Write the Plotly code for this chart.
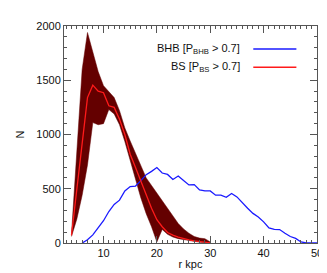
import plotly.graph_objects as go

# BS (blue stragglers) distribution, r in kpc
bs_r = list(range(4, 31))
bs_n = [70, 490, 910, 1340, 1455, 1400, 1385, 1265, 1250, 1140, 1000, 818, 695, 570,
        440, 320, 215, 150, 97, 72, 55, 40, 28, 20, 12, 6, 2]
bs_upper = [80, 880, 1600, 1940, 1750, 1580, 1450, 1390, 1340, 1220, 1060, 940, 830, 710,
            600, 530, 460, 390, 310, 240, 180, 130, 90, 60, 45, 40, 10]
bs_lower = [60, 220, 440, 720, 1110, 1090, 1100, 1230, 1190, 1090, 935, 759, 590, 415,
            270, 150, 10, 125, 80, 55, 40, 30, 22, 15, 8, 5, 0]

# BHB distribution
bhb_r = list(range(6, 51))
bhb_n = [0, 30, 75, 135, 205, 290, 355, 395, 480, 520, 525, 575, 630, 660, 695, 645, 632,
         585, 617, 575, 535, 538, 490, 480, 480, 441, 441, 421, 456, 425, 370, 320, 273,
         240, 195, 140, 125, 124, 90, 60, 42, 10, 0, 0, 0]

x_ticks = [10, 20, 30, 40, 50]
y_ticks = [0, 500, 1000, 1500, 2000]

FONT = "Liberation Sans, Arial, sans-serif"
AX = "#555555"
BAND = "#640000"

fig = go.Figure()
fig.add_trace(go.Scatter(x=bs_r, y=bs_lower, mode="lines", line=dict(width=0.5, color=BAND),
                         showlegend=False, hoverinfo="skip"))
fig.add_trace(go.Scatter(x=bs_r, y=bs_upper, mode="lines", line=dict(width=0.5, color=BAND),
                         fill="tonexty", fillcolor=BAND, showlegend=False, hoverinfo="skip"))
fig.add_trace(go.Scatter(x=bhb_r, y=bhb_n, mode="lines", line=dict(color="#1a1aff", width=1.3),
                         showlegend=False))
fig.add_trace(go.Scatter(x=bs_r, y=bs_n, mode="lines", line=dict(color="#ff1a1a", width=1.3),
                         showlegend=False))

# legend (manual, IDL style)
legend_items = [("BHB [P<sub>BHB</sub> > 0.7]", "#1a1aff", 40),
                ("BS [P<sub>BS</sub> > 0.7]", "#ff1a1a", 59)]
for text, col, ypx in legend_items:
    yp = 1 - (ypx - 16) / (242.7 - 16)
    fig.add_annotation(text=text, xref="paper", yref="paper", x=(234 - 44) / 270, y=yp,
                       xanchor="right", yanchor="middle", showarrow=False,
                       font=dict(size=11, color="#111", family=FONT))
    fig.add_shape(type="line", xref="paper", yref="paper",
                  x0=(246 - 44) / 270, x1=(292 - 44) / 270, y0=yp, y1=yp,
                  line=dict(color=col, width=1.5))

fig.update_xaxes(range=[2.6, 50], tickvals=x_ticks, ticks="inside", ticklen=7, tickcolor=AX,
                 showline=True, linecolor=AX, linewidth=1, mirror="allticks", showgrid=False,
                 zeroline=False, minor=dict(dtick=1, ticks="inside", ticklen=3, tickcolor=AX),
                 title=dict(text="r kpc", font=dict(size=11, family=FONT, color="#111"), standoff=2),
                 tickfont=dict(size=11, family=FONT, color="#111"))
fig.update_yaxes(range=[0, 2000], tickvals=y_ticks, ticks="inside", ticklen=7, tickcolor=AX,
                 showline=True, linecolor=AX, linewidth=1, mirror="allticks", showgrid=False,
                 zeroline=False, minor=dict(dtick=100, ticks="inside", ticklen=3, tickcolor=AX),
                 title=dict(text="N", font=dict(size=11, family=FONT, color="#111"), standoff=9),
                 tickfont=dict(size=11, family=FONT, color="#111"))

fig.update_layout(width=327, height=273, margin=dict(l=44, r=13, t=16, b=30),
                  plot_bgcolor="white", paper_bgcolor="white",
                  font=dict(family=FONT, size=11, color="#111"))
fig.write_html("out.html")
